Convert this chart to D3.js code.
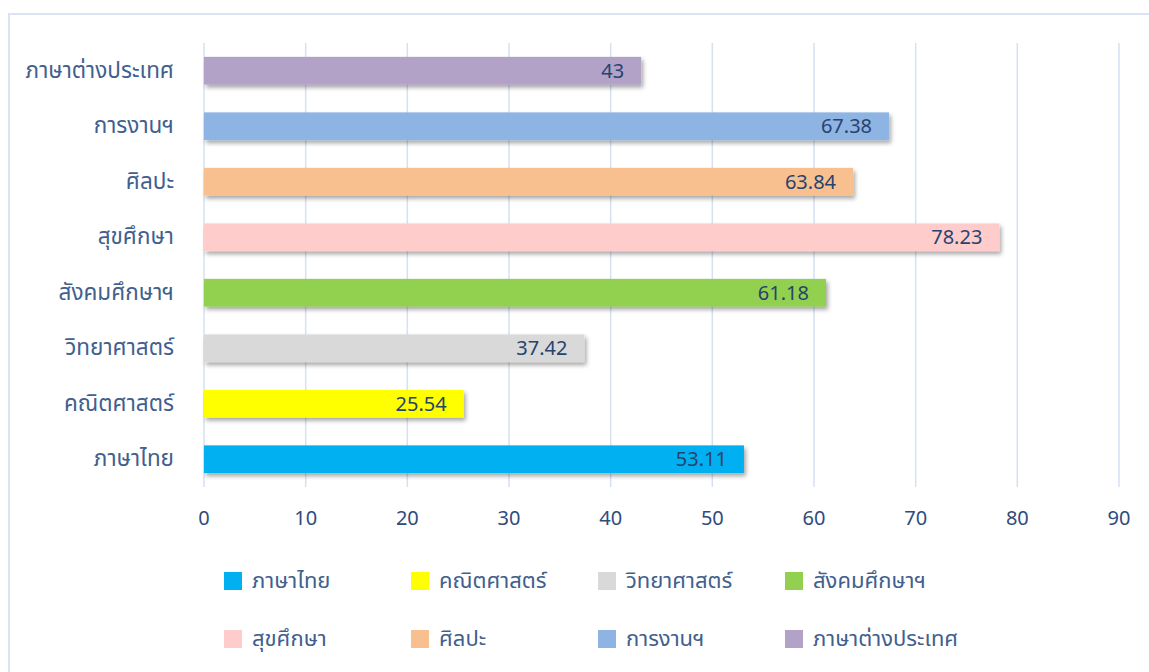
<!DOCTYPE html>
<html lang="th">
  <head>
    <meta charset="utf-8">
    <title>bar chart</title>
    <script src="https://d3js.org/d3.v7.min.js"></script>
    <style type="text/css">
        body {
          margin: 0;
          background: #fff;
        }
        .chart text {
          font-family: "Noto Sans Thai", "Noto Sans", "DejaVu Sans", sans-serif;
        }
        .grid line {
          stroke: #D5E1F1;
          stroke-width: 1.5px;
        }
        .cat {
          font-size: 22.5px;
          fill: #41608E;
        }
        .tick-label {
          font-size: 20px;
          fill: #2F4B7C;
        }
        .value {
          font-size: 20px;
          fill: #27436F;
        }
        .legend text {
          font-size: 22px;
          fill: #41608E;
        }
    </style>
  </head>
  <body>
    <div class="chart" id="chart"></div>

    <script>
        // data, listed bottom bar first
        var subjects = ["ภาษาไทย", "คณิตศาสตร์", "วิทยาศาสตร์", "สังคมศึกษาฯ", "สุขศึกษา", "ศิลปะ", "การงานฯ", "ภาษาต่างประเทศ"];
        var scores = [53.11, 25.54, 37.42, 61.18, 78.23, 63.84, 67.38, 43];
        var barColors = ["#00B0F0", "#FFFF00", "#D9D9D9", "#92D050", "#FFCCCC", "#F8C08F", "#8EB4E3", "#B3A2C7"];
        var ticks = [0, 10, 20, 30, 40, 50, 60, 70, 80, 90];

        var width = 1149, height = 672;

        var svg = d3.select("#chart").append("svg")
            .attr("width", width)
            .attr("height", height);

        var defs = svg.append("defs");
        defs.append("filter")
            .attr("id", "shadow")
            .attr("x", "-5%").attr("y", "-30%")
            .attr("width", "115%").attr("height", "180%")
          .append("feDropShadow")
            .attr("dx", 2)
            .attr("dy", 3)
            .attr("stdDeviation", 2)
            .attr("flood-color", "#000")
            .attr("flood-opacity", 0.35);

        // outer frame
        svg.append("rect")
            .attr("x", 9).attr("y", 14)
            .attr("width", width + 20).attr("height", height + 20)
            .attr("fill", "none")
            .attr("stroke", "#DAE3F3")
            .attr("stroke-width", 2);

        var x = d3.scaleLinear()
            .domain([0, 90])
            .range([204, 1119]);

        var y = d3.scaleBand()
            .domain(subjects.slice().reverse())
            .range([43, 487])
            .paddingInner(0.5)
            .paddingOuter(0.25);

        // vertical grid lines
        svg.append("g")
            .attr("class", "grid")
          .selectAll("line")
          .data(ticks)
          .enter().append("line")
            .attr("x1", function(d) { return x(d); })
            .attr("x2", function(d) { return x(d); })
            .attr("y1", 43)
            .attr("y2", 487);

        // x tick labels
        svg.append("g")
          .selectAll("text")
          .data(ticks)
          .enter().append("text")
            .attr("class", "tick-label")
            .attr("x", function(d) { return x(d); })
            .attr("y", 518)
            .attr("dy", "0.35em")
            .attr("text-anchor", "middle")
            .text(function(d) { return d; });

        // category labels
        svg.append("g")
          .selectAll("text")
          .data(subjects)
          .enter().append("text")
            .attr("class", "cat")
            .attr("x", 174)
            .attr("y", function(d) { return y(d) + y.bandwidth() / 2; })
            .attr("dy", "0.3em")
            .attr("text-anchor", "end")
            .text(function(d) { return d; });

        // bars
        svg.append("g")
          .selectAll("rect")
          .data(subjects)
          .enter().append("rect")
            .attr("x", x(0))
            .attr("y", function(d) { return y(d); })
            .attr("width", function(d, i) { return x(scores[i]) - x(0); })
            .attr("height", y.bandwidth())
            .attr("fill", function(d, i) { return barColors[i]; })
            .attr("filter", "url(#shadow)");

        // value labels
        svg.append("g")
          .selectAll("text")
          .data(subjects)
          .enter().append("text")
            .attr("class", "value")
            .attr("x", function(d, i) { return x(scores[i]) - 17; })
            .attr("y", function(d) { return y(d) + y.bandwidth() / 2; })
            .attr("dy", "0.35em")
            .attr("text-anchor", "end")
            .text(function(d, i) { return scores[i]; });

        // legend, 4 per row
        var legend = svg.append("g")
            .attr("class", "legend")
          .selectAll("g")
          .data(subjects)
          .enter().append("g")
            .attr("transform", function(d, i) {
              return "translate(" + (224 + (i % 4) * 187) + "," + (572 + Math.floor(i / 4) * 58) + ")";
            });

        legend.append("rect")
            .attr("width", 18)
            .attr("height", 18)
            .attr("fill", function(d, i) { return barColors[i]; });

        legend.append("text")
            .attr("x", 28)
            .attr("y", 9)
            .attr("dy", "0.3em")
            .text(function(d) { return d; });

    </script>
  </body>
</html>
